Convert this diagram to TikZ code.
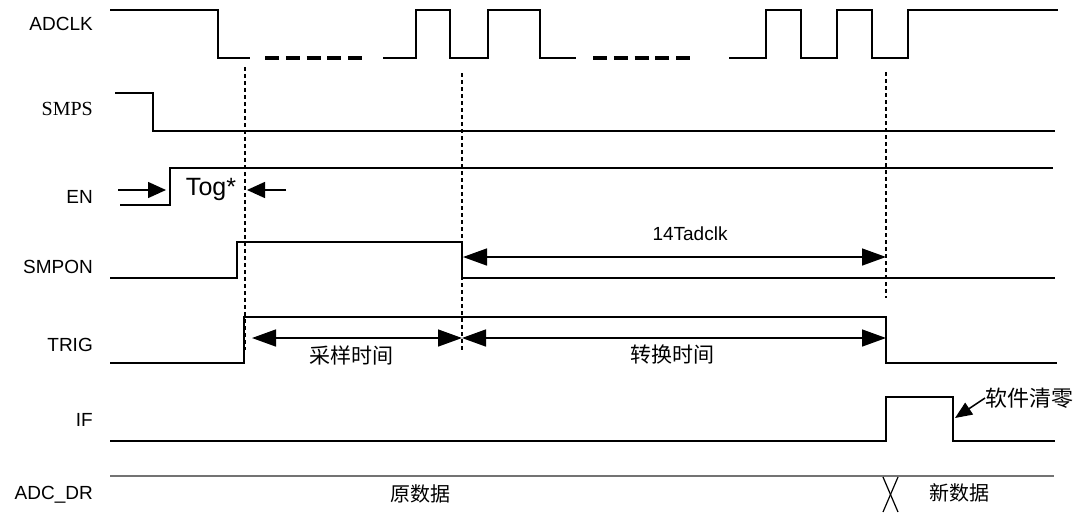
\documentclass[tikz,border=0pt]{standalone}
\usepackage{fontspec}
\setmainfont{Liberation Sans}
\newfontfamily\seriffont{Liberation Serif}
\newfontfamily\cjk{Noto Sans CJK SC}
\usetikzlibrary{arrows.meta}
\begin{document}
\begin{tikzpicture}[x=1pt,y=-1pt,
  sig/.style={line width=2pt, line join=miter},
  clkdash/.style={line width=3.5pt, dash pattern=on 14pt off 6.75pt},
  guide/.style={line width=1.2pt, dash pattern=on 4pt off 3pt},
  dim/.style={line width=1.5pt, {Triangle[length=24pt,width=17pt]}-{Triangle[length=24pt,width=17pt]}},
  tog/.style={line width=1.5pt, -{Triangle[length=18pt,width=16pt]}},
  lbl/.style={anchor=east, font=\fontsize{19}{19}\selectfont, inner sep=0pt},
  cn/.style={font=\cjk\fontsize{21}{21}\selectfont, inner sep=0pt},
]
\useasboundingbox (0,0) rectangle (1081,512);

% labels
\node[lbl] (lADCLK) at (93,24) {ADCLK};
\node[lbl, font=\seriffont\fontsize{20}{20}\selectfont] (lSMPS) at (93,109) {SMPS};
\node[lbl] (lEN) at (93,197) {EN};
\node[lbl] (lSMPON) at (93,267) {SMPON};
\node[lbl] (lTRIG) at (93,345) {TRIG};
\node[lbl] (lIF) at (93,420) {IF};
\node[lbl] (lDR) at (93,495) {ADC\_DR};

% guide lines
\draw[guide] (245,67) -- (245,350);
\draw[guide] (462,73) -- (462,352);
\draw[guide] (886,72) -- (886,298);

% ADCLK
\draw[sig] (110,10) -- (218,10) -- (218,58) -- (250,58);
\draw[clkdash] (265,58) -- (362,58);
\draw[sig] (383,58) -- (416,58) -- (416,10) -- (450,10) -- (450,58) -- (488,58) -- (488,10) -- (540,10) -- (540,58) -- (576,58);
\draw[clkdash] (593,58) -- (694,58);
\draw[sig] (729,58) -- (766,58) -- (766,10) -- (801,10) -- (801,58) -- (837,58) -- (837,10) -- (872,10) -- (872,58) -- (908,58) -- (908,10) -- (1058,10);

% SMPS
\draw[sig] (115,93) -- (153,93) -- (153,131) -- (1055,131);

% EN
\draw[sig] (120,205) -- (170,205) -- (170,168) -- (1053,168);
\coordinate (togL0) at (118,190);
\coordinate (togL1) at (166,190);
\coordinate (togR0) at (286,190);
\coordinate (togR1) at (247,190);
\draw[tog] (togL0) -- (togL1);
\draw[tog] (togR0) -- (togR1);
\node[font=\fontsize{25}{25}\selectfont, inner sep=0pt] (tog) at (211,189) {Tog*};

% SMPON
\draw[sig] (110,278) -- (237,278) -- (237,242) -- (462,242) -- (462,278) -- (1055,278);
\coordinate (c14a) at (463,257);
\coordinate (c14b) at (886,257);
\draw[dim] (c14a) -- (c14b);
\node[font=\fontsize{19}{19}\selectfont, inner sep=0pt] (t14) at (690,234) {14Tadclk};

% TRIG
\draw[sig] (110,363) -- (244,363) -- (244,317) -- (886,317) -- (886,363) -- (1057,363);
\coordinate (sa) at (252,338);
\coordinate (sb) at (462,338);
\coordinate (sc) at (886,338);
\draw[dim] (sa) -- (sb);
\draw[dim] (sb) -- (sc);
\node[cn] (tsamp) at (351,355) {采样时间};
\node[cn] (tconv) at (672,355) {转换时间};

% IF
\draw[sig] (110,441) -- (886,441) -- (886,397) -- (953,397) -- (953,441) -- (1055,441);
\node[cn, font=\cjk\fontsize{22}{22}\selectfont, anchor=west] (tclr) at (985,398) {软件清零};
\coordinate (clrtip) at (955,418);
\draw[line width=1.5pt, -{Triangle[length=17pt,width=14pt]}] (tclr.west) -- (clrtip);

% ADC_DR
\draw[line width=1.5pt, black!55] (110,476) -- (1054,476);
\draw[line width=1.2pt] (883,477) -- (898,512);
\draw[line width=1.2pt] (898,477) -- (883,512);
\node[cn, font=\cjk\fontsize{20}{20}\selectfont] (told) at (420,494) {原数据};
\node[cn, font=\cjk\fontsize{20}{20}\selectfont] (tnew) at (959,493) {新数据};
\end{tikzpicture}
\end{document}
